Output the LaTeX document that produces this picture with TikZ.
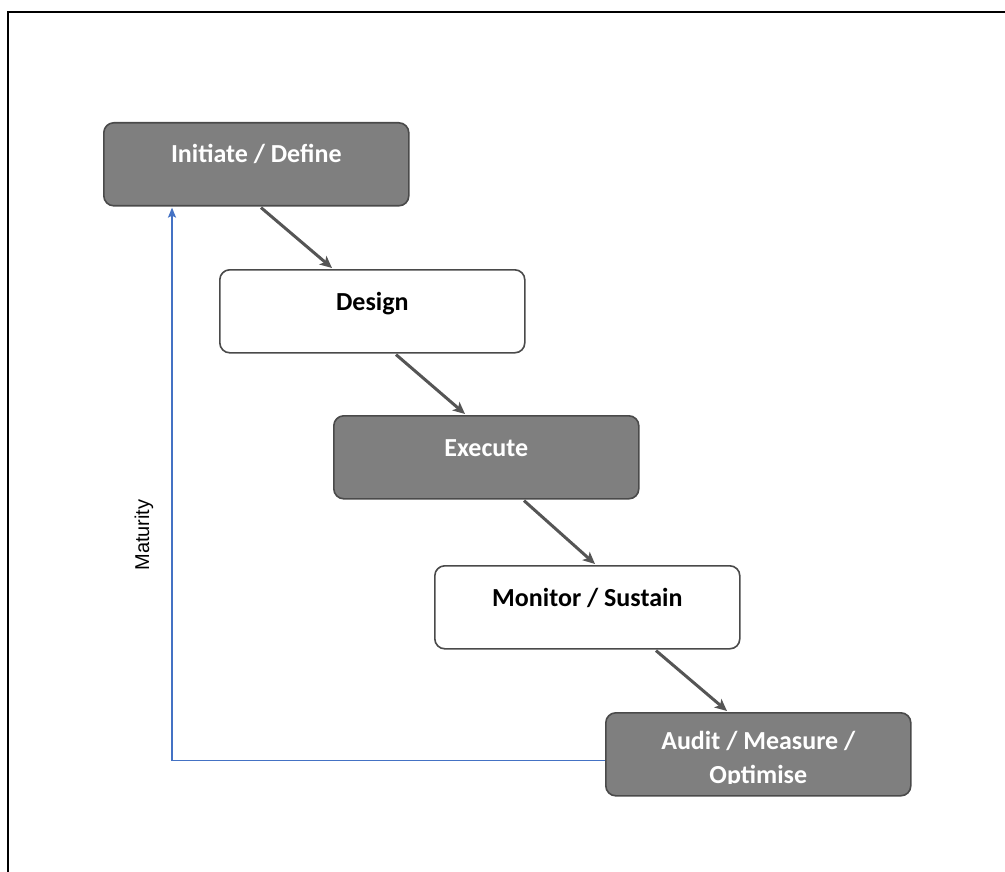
\documentclass[tikz,border=0pt]{standalone}
\usepackage{fontspec}
\setmainfont{Carlito}
\newfontfamily\matfont{Liberation Sans}
\usetikzlibrary{arrows.meta,calc}
\definecolor{boxgray}{HTML}{7F7F7F}
\definecolor{edgegray}{HTML}{4A4A4A}
\definecolor{arrowgray}{HTML}{555555}
\definecolor{matblue}{HTML}{4472C4}
\tikzset{
  stagebox/.style={draw=edgegray, line width=1.6pt, rounded corners=10pt,
    minimum width=305pt, minimum height=83pt, inner sep=0pt, anchor=north west},
  darkbox/.style={stagebox, fill=boxgray},
  lightbox/.style={stagebox, fill=white},
  darktext/.style={text=white, font=\bfseries\fontsize{26}{33}\selectfont, anchor=base, inner sep=0pt},
  lighttext/.style={text=black, font=\bfseries\fontsize{26}{33}\selectfont, anchor=base, inner sep=0pt},
  flow/.style={draw=arrowgray, line width=3pt, -{Stealth[length=12pt,width=11pt,inset=3pt]}},
  backflow/.style={draw=matblue, line width=1.6pt, -{Stealth[length=10pt,width=8pt,inset=2pt]}}
}
\begin{document}
\begin{tikzpicture}[x=1pt,y=-1pt]
\useasboundingbox (0,0) rectangle (1005,872);
\fill[white] (0,0) rectangle (1005,872);
\draw[black, line width=2.2pt] (8,872) -- (8,12) -- (1005,12);

\node[darkbox]  (init)    at (103,122) {};
\node[lightbox] (design)  at (219,269) {};
\node[darkbox]  (execute) at (333,415) {};
\node[lightbox] (monitor) at (434,565) {};
\node[darkbox]  (audit)   at (605,712) {};

\node[darktext]  (tinit)    at (init.north)    [yshift=-41pt] {Initiate / Define};
\node[lighttext] (tdesign)  at (design.north)  [yshift=-41pt] {Design};
\node[darktext]  (texecute) at (execute.north) [yshift=-41pt] {Execute};
\node[lighttext] (tmonitor) at (monitor.north) [yshift=-41pt] {Monitor / Sustain};
\begin{scope}
\clip (600,700) rectangle (920,783);
\node[darktext] (taudit1) at (audit.north) [yshift=-37pt] {Audit / Measure /};
\node[darktext] (taudit2) at (audit.north) [yshift=-71pt] {Optimise};
\end{scope}

\draw[flow] ($(init.south west)+(158,1)$) -- ($(design.north west)+(113,-1)$);
\draw[flow] ($(design.south west)+(177,1)$) -- ($(execute.north west)+(132,-1)$);
\draw[flow] ($(execute.south west)+(191,1)$) -- ($(monitor.north west)+(161,-1)$);
\draw[flow] ($(monitor.south west)+(222,1)$) -- ($(audit.north west)+(122,-1)$);

\draw[backflow] ($(audit.west)+(0,6)$) -| ($(init.south west)+(69,1)$);

\node[font=\matfont\fontsize{20}{22}\selectfont, rotate=90, inner sep=0pt] (maturity) at (144,535) {Maturity};
\end{tikzpicture}
\end{document}
